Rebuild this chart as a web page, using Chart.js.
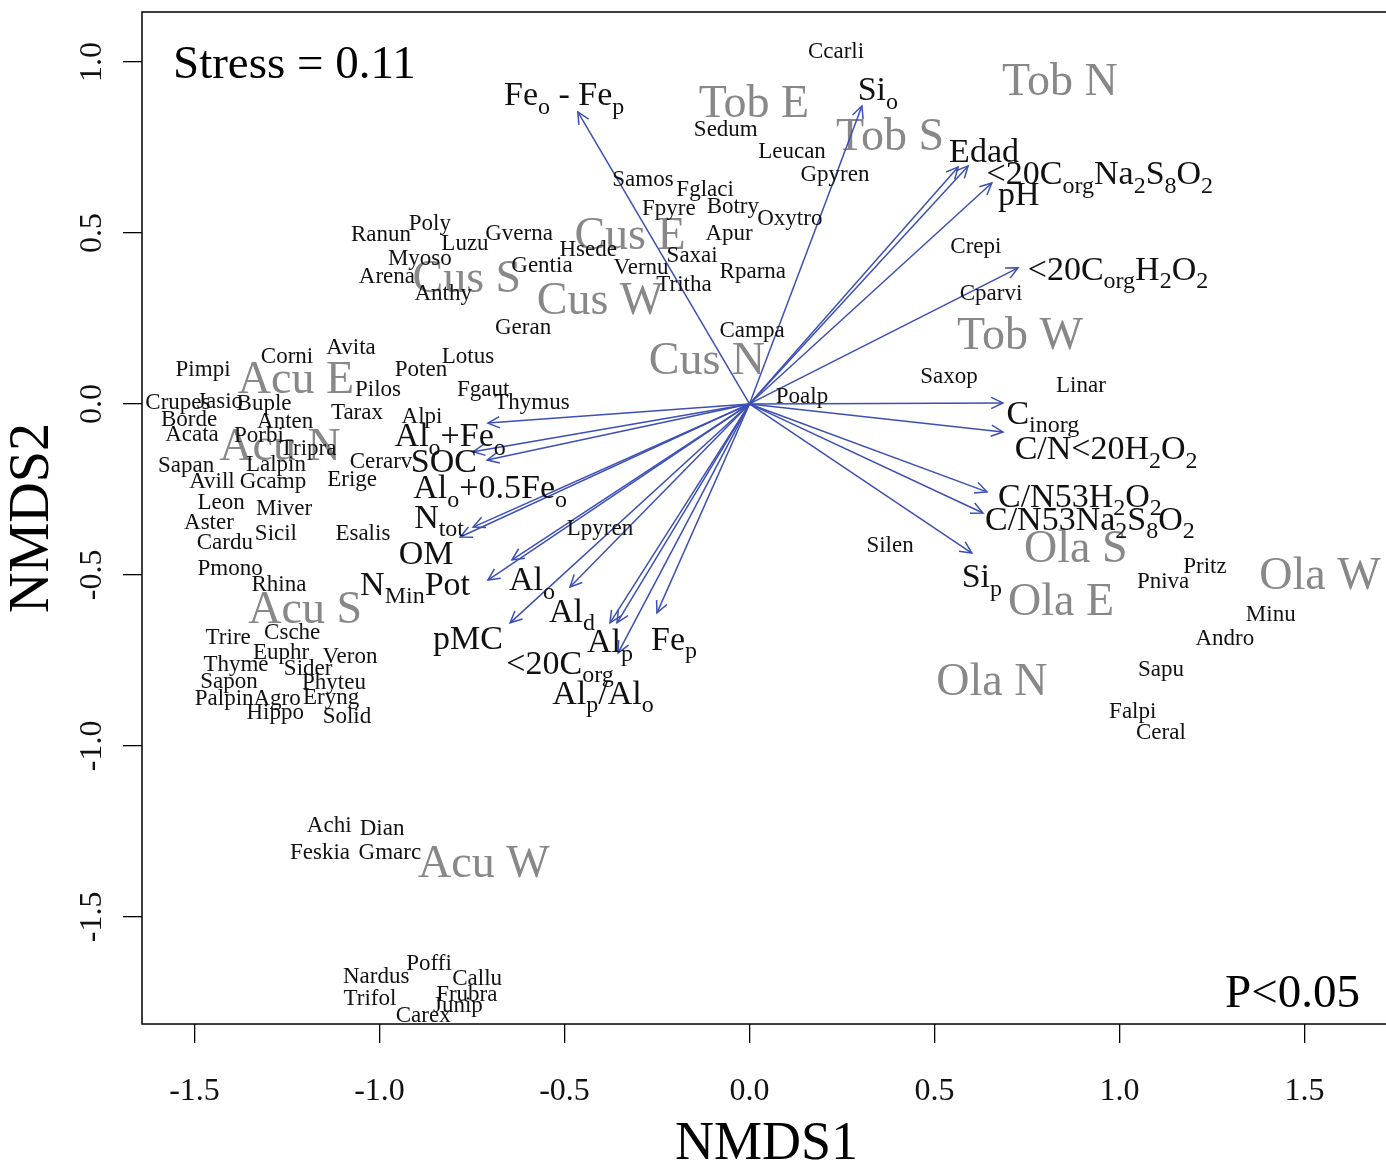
<!DOCTYPE html>
<html>
<head>
<meta charset="utf-8">
<script src="https://cdn.jsdelivr.net/npm/chart.js@4"></script>
<style>
  html, body { margin: 0; padding: 0; background: #fff; overflow: hidden; }
  #wrap { width: 1386px; height: 1162px; overflow: hidden; }
</style>
</head>
<body>
<div id="wrap"><canvas id="nmds" width="1392" height="1162"></canvas></div>
<script>
const SERIF = "'Liberation Serif', 'Times New Roman', serif";

const X_TICKS = [-1.5, -1.0, -0.5, 0.0, 0.5, 1.0, 1.5];
const Y_TICKS = [-1.5, -1.0, -0.5, 0.0, 0.5, 1.0];

// species scores
const SPECIES = ['Ccarli', 'Sedum', 'Leucan', 'Gpyren', 'Samos', 'Fglaci', 'Fpyre', 'Botry', 'Oxytro', 'Apur',
    'Saxai', 'Rparna', 'Vernu', 'Tritha', 'Hsede', 'Gentia', 'Gverna', 'Luzu', 'Poly', 'Ranun',
    'Myoso', 'Arena', 'Anthy', 'Geran', 'Campa', 'Crepi', 'Cparvi', 'Saxop', 'Linar', 'Poalp',
    'Thymus', 'Fgaut', 'Lotus', 'Poten', 'Avita', 'Corni', 'Pimpi', 'Pilos', 'Tarax', 'Alpi',
    'Crupes', 'Jasio', 'Buple', 'Borde', 'Acata', 'Anten', 'Porbi', 'Tripra', 'Sapan', 'Lalpin',
    'Avill', 'Gcamp', 'Cerarv', 'Erige', 'Leon', 'Miver', 'Aster', 'Sicil', 'Cardu', 'Esalis',
    'Pmono', 'Rhina', 'Trire', 'Csche', 'Euphr', 'Veron', 'Thyme', 'Sider', 'Sapon', 'Phyteu',
    'Palpin', 'Agro', 'Eryng', 'Hippo', 'Solid', 'Lpyren', 'Silen', 'Pritz', 'Pniva', 'Minu',
    'Andro', 'Sapu', 'Falpi', 'Ceral', 'Achi', 'Dian', 'Feskia', 'Gmarc', 'Poffi', 'Nardus',
    'Callu', 'Trifol', 'Frubra', 'Junip', 'Carex'];
const SPECIES_X = [0.234, -0.064, 0.115, 0.231, -0.288, -0.120, -0.218, -0.045, 0.109, -0.055,
    -0.155, 0.009, -0.293, -0.177, -0.436, -0.561, -0.623, -0.769, -0.864, -0.996,
    -0.891, -0.980, -0.828, -0.612, 0.007, 0.612, 0.653, 0.539, 0.896, 0.142,
    -0.588, -0.720, -0.761, -0.888, -1.077, -1.250, -1.477, -1.004, -1.061, -0.885,
    -1.545, -1.431, -1.312, -1.515, -1.507, -1.255, -1.326, -1.193, -1.523, -1.280,
    -1.453, -1.288, -0.996, -1.074, -1.428, -1.258, -1.461, -1.280, -1.418, -1.045,
    -1.404, -1.272, -1.409, -1.236, -1.266, -1.080, -1.388, -1.193, -1.407, -1.123,
    -1.420, -1.277, -1.131, -1.282, -1.088, -0.404, 0.380, 1.231, 1.118, 1.409,
    1.285, 1.112, 1.036, 1.112, -1.136, -0.993, -1.161, -0.972, -0.866, -1.009,
    -0.736, -1.026, -0.764, -0.788, -0.882];
const SPECIES_Y = [1.035, 0.807, 0.743, 0.675, 0.661, 0.632, 0.576, 0.582, 0.547, 0.503,
    0.439, 0.392, 0.404, 0.354, 0.456, 0.409, 0.503, 0.474, 0.532, 0.500,
    0.430, 0.377, 0.327, 0.228, 0.219, 0.465, 0.327, 0.085, 0.058, 0.026,
    0.009, 0.047, 0.143, 0.105, 0.170, 0.143, 0.105, 0.047, -0.020, -0.032,
    0.009, 0.012, 0.006, -0.041, -0.085, -0.047, -0.088, -0.126, -0.175, -0.173,
    -0.222, -0.222, -0.164, -0.216, -0.284, -0.301, -0.342, -0.374, -0.401, -0.374,
    -0.477, -0.523, -0.678, -0.664, -0.722, -0.734, -0.757, -0.769, -0.807, -0.810,
    -0.857, -0.857, -0.854, -0.898, -0.909, -0.360, -0.409, -0.471, -0.515, -0.611,
    -0.681, -0.772, -0.895, -0.956, -1.228, -1.237, -1.307, -1.307, -1.632, -1.670,
    -1.675, -1.734, -1.722, -1.754, -1.784];

// site centroids
const SITES = ['Tob E', 'Tob S', 'Tob N', 'Cus E', 'Cus S', 'Cus W', 'Cus N', 'Tob W',
    'Acu E', 'Acu N', 'Acu S', 'Acu W', 'Ola S', 'Ola E', 'Ola W', 'Ola N'];
const SITE_X = [0.012, 0.380, 0.839, -0.323, -0.764, -0.404, -0.115, 0.731,
    -1.226, -1.269, -1.201, -0.718, 0.882, 0.842, 1.542, 0.655];
const SITE_Y = [0.889, 0.792, 0.953, 0.503, 0.377, 0.313, 0.137, 0.208,
    0.082, -0.114, -0.591, -1.333, -0.412, -0.567, -0.491, -0.801];

// fitted environmental vectors (_{..} = subscript)
const VECTORS = ['Fe_{o} - Fe_{p}', 'Si_{o}', 'Edad', '<20C_{org}Na_{2}S_{8}O_{2}', 'pH',
    '<20C_{org}H_{2}O_{2}', 'C_{inorg}', 'C/N<20H_{2}O_{2}', 'C/N53H_{2}O_{2}', 'C/N53Na_{2}S_{8}O_{2}',
    'Si_{p}', 'Al_{o}+Fe_{o}', 'SOC', 'Al_{o}+0.5Fe_{o}', 'N_{tot}', 'OM', 'Al_{o}', 'N_{Min}Pot',
    'pMC', 'Al_{d}', 'Al_{p}', 'Al_{p}/Al_{o}', '<20C_{org}', 'Fe_{p}'];
const VEC_X = [-0.464, 0.304, 0.564, 0.591, 0.655, 0.726, 0.685, 0.685, 0.642, 0.631,
    0.601, -0.707, -0.747, -0.709, -0.747, -0.782, -0.642, -0.707,
    -0.647, -0.485, -0.377, -0.358, -0.355, -0.250];
const VEC_Y = [0.854, 0.871, 0.693, 0.696, 0.646, 0.398, 0.003, -0.082, -0.257, -0.319,
    -0.436, -0.056, -0.140, -0.164, -0.360, -0.389, -0.456, -0.515,
    -0.640, -0.535, -0.640, -0.640, -0.728, -0.611];
const VEC_LABEL_X = [-0.501, 0.347, 0.634, 0.947, 0.728, 0.996, 0.793, 0.964, 0.893, 0.920,
    0.628, -0.809, -0.826, -0.701, -0.839, -0.874, -0.588, -0.904,
    -0.761, -0.480, -0.377, -0.396, -0.512, -0.204];
const VEC_LABEL_Y = [0.909, 0.924, 0.743, 0.678, 0.617, 0.398, -0.023, -0.126, -0.266, -0.333,
    -0.500, -0.088, -0.164, -0.240, -0.327, -0.433, -0.509, -0.523,
    -0.681, -0.602, -0.690, -0.842, -0.754, -0.684];

const STRESS = 'Stress = 0.11';
const P_TEXT = 'P<0.05';

const ARROW_COLOR = '#3c4fb4';

// canvas 'middle' sits a bit high for this serif, nudge text down
const DROP = 0.1;

function richParts(str) {
    const parts = [];
    const re = /_\{([^}]*)\}/g;
    let last = 0, m;
    while ((m = re.exec(str)) !== null) {
        if (m.index > last) parts.push({ t: str.slice(last, m.index), sub: false });
        parts.push({ t: m[1], sub: true });
        last = re.lastIndex;
    }
    if (last < str.length) parts.push({ t: str.slice(last), sub: false });
    return parts;
}

function drawRich(ctx, str, x, y, size) {
    const parts = richParts(str);
    const subSize = Math.round(size * 0.7);
    let total = 0;
    parts.forEach(p => {
        ctx.font = `${p.sub ? subSize : size}px ${SERIF}`;
        p.w = ctx.measureText(p.t).width;
        total += p.w;
    });
    let cx = x - total / 2;
    const base = y + size * DROP;
    ctx.textAlign = 'left';
    ctx.textBaseline = 'middle';
    parts.forEach(p => {
        ctx.font = `${p.sub ? subSize : size}px ${SERIF}`;
        ctx.fillText(p.t, cx, p.sub ? base + size * 0.32 : base);
        cx += p.w;
    });
}

const nmdsPlugin = {
    id: 'nmdsPlugin',
    beforeDatasetsDraw(chart) {
        const { ctx, scales: { x, y } } = chart;
        ctx.save();
        ctx.fillStyle = '#888888';
        ctx.font = `46px ${SERIF}`;
        ctx.textAlign = 'center';
        ctx.textBaseline = 'middle';
        SITES.forEach((s, i) => {
            ctx.fillText(s, x.getPixelForValue(SITE_X[i]), y.getPixelForValue(SITE_Y[i]) + 46 * DROP);
        });
        ctx.restore();
    },
    afterDatasetsDraw(chart) {
        const { ctx, chartArea: a, scales: { x, y } } = chart;
        ctx.save();

        // arrow heads
        const ox = x.getPixelForValue(0), oy = y.getPixelForValue(0);
        ctx.strokeStyle = ARROW_COLOR;
        ctx.lineWidth = 1.5;
        VEC_X.forEach((vx, i) => {
            const tx = x.getPixelForValue(vx), ty = y.getPixelForValue(VEC_Y[i]);
            const ang = Math.atan2(ty - oy, tx - ox);
            const len = 13, spread = Math.PI / 7;
            ctx.beginPath();
            ctx.moveTo(tx - len * Math.cos(ang - spread), ty - len * Math.sin(ang - spread));
            ctx.lineTo(tx, ty);
            ctx.lineTo(tx - len * Math.cos(ang + spread), ty - len * Math.sin(ang + spread));
            ctx.stroke();
        });

        // species labels
        ctx.fillStyle = '#111';
        ctx.font = `23px ${SERIF}`;
        ctx.textAlign = 'center';
        ctx.textBaseline = 'middle';
        SPECIES.forEach((s, i) => {
            ctx.fillText(s, x.getPixelForValue(SPECIES_X[i]), y.getPixelForValue(SPECIES_Y[i]) + 23 * DROP);
        });

        // vector labels
        VECTORS.forEach((v, i) => {
            drawRich(ctx, v, x.getPixelForValue(VEC_LABEL_X[i]), y.getPixelForValue(VEC_LABEL_Y[i]), 34);
        });

        // box
        ctx.strokeStyle = '#000';
        ctx.lineWidth = 1.5;
        ctx.strokeRect(a.left, a.top, a.right - a.left, a.bottom - a.top);

        // stress and p value
        ctx.fillStyle = '#000';
        ctx.font = `47px ${SERIF}`;
        ctx.textAlign = 'left';
        ctx.textBaseline = 'middle';
        ctx.fillText(STRESS, a.left + 31, a.top + 54);
        ctx.textAlign = 'right';
        ctx.fillText(P_TEXT, 1360, a.bottom - 29);

        // rotated y tick labels (R style)
        ctx.font = `32px ${SERIF}`;
        ctx.textAlign = 'center';
        ctx.fillStyle = '#111';
        Y_TICKS.forEach(v => {
            ctx.save();
            ctx.translate(93, y.getPixelForValue(v));
            ctx.rotate(-Math.PI / 2);
            ctx.fillText(v.toFixed(1), 0, 0);
            ctx.restore();
        });
        ctx.restore();
    }
};

const arrowSets = VEC_X.map((vx, i) => ({
    type: 'line',
    data: [{ x: 0, y: 0 }, { x: vx, y: VEC_Y[i] }],
    borderColor: ARROW_COLOR,
    borderWidth: 1.5,
    pointRadius: 0,
    fill: false,
    tension: 0
}));

new Chart(document.getElementById('nmds'), {
    type: 'scatter',
    data: {
        datasets: [
            { data: SITE_X.map((v, i) => ({ x: v, y: SITE_Y[i] })), pointRadius: 0 },
            { data: SPECIES_X.map((v, i) => ({ x: v, y: SPECIES_Y[i] })), pointRadius: 0 },
            ...arrowSets
        ]
    },
    options: {
        responsive: false,
        animation: false,
        layout: { padding: { top: 12, right: 1, left: 0, bottom: 0 } },
        plugins: { legend: { display: false }, tooltip: { enabled: false } },
        scales: {
            x: {
                type: 'linear',
                min: -1.642,
                max: 1.734,
                afterBuildTicks: s => { s.ticks = X_TICKS.map(v => ({ value: v })); },
                afterFit: s => { s.height = 138; },
                grid: { drawOnChartArea: false, color: '#000', lineWidth: 1.3, tickLength: 19 },
                border: { display: false },
                ticks: {
                    font: { family: SERIF, size: 32 },
                    color: '#111',
                    padding: 29,
                    maxRotation: 0,
                    callback: v => Number(v).toFixed(1)
                },
                title: {
                    display: true,
                    text: 'NMDS1',
                    color: '#000',
                    font: { family: SERIF, size: 54, lineHeight: 0.62 },
                    padding: 0
                }
            },
            y: {
                type: 'linear',
                min: -1.813,
                max: 1.146,
                afterBuildTicks: s => { s.ticks = Y_TICKS.map(v => ({ value: v })); },
                afterFit: s => { s.width = 142; },
                grid: { drawOnChartArea: false, color: '#000', lineWidth: 1.3, tickLength: 19 },
                border: { display: false },
                ticks: { display: false },
                title: {
                    display: true,
                    text: 'NMDS2',
                    color: '#000',
                    font: { family: SERIF, size: 56, lineHeight: 1.2 },
                    padding: 0
                }
            }
        }
    },
    plugins: [nmdsPlugin]
});
</script>
</body>
</html>
